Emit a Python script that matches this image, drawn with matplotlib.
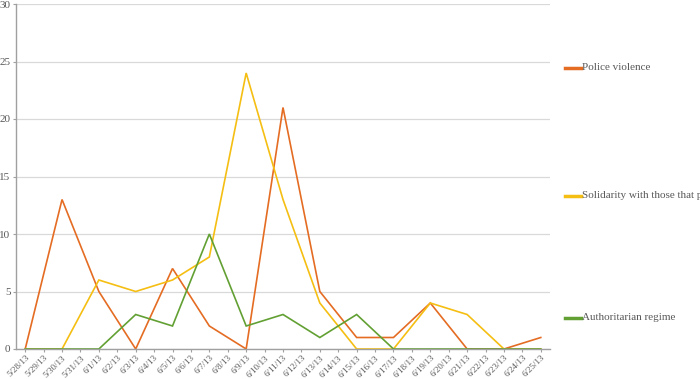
import matplotlib
matplotlib.use("Agg")
import matplotlib.pyplot as plt
from matplotlib.lines import Line2D

dates = ["5/28/13", "5/29/13", "5/30/13", "5/31/13", "6/1/13", "6/2/13", "6/3/13",
         "6/4/13", "6/5/13", "6/6/13", "6/7/13", "6/8/13", "6/9/13", "6/10/13",
         "6/11/13", "6/12/13", "6/13/13", "6/14/13", "6/15/13", "6/16/13", "6/17/13",
         "6/18/13", "6/19/13", "6/20/13", "6/21/13", "6/22/13", "6/23/13", "6/24/13",
         "6/25/13"]
point_dates = ["5/28/13", "5/30/13", "6/1/13", "6/3/13", "6/5/13", "6/7/13", "6/9/13",
               "6/11/13", "6/13/13", "6/15/13", "6/17/13", "6/19/13", "6/21/13",
               "6/23/13", "6/25/13"]
police = [0, 13, 5, 0, 7, 2, 0, 21, 5, 1, 1, 4, 0, 0, 1]
solidarity = [0, 0, 6, 5, 6, 8, 24, 13, 4, 0, 0, 4, 3, 0, 0]
authoritarian = [0, 0, 0, 3, 2, 10, 2, 3, 1, 3, 0, 0, 0, 0, 0]
series_names = ["Police violence", "Solidarity with those that protest", "Authoritarian regime"]
colors = ["#E46C23", "#F5BE12", "#62A033"]

plt.rcParams['font.family'] = ['Liberation Serif', 'DejaVu Serif']

fig = plt.figure(figsize=(7, 3.79), dpi=100)
ax = fig.add_axes([16/700, 1-349/379, (550-16)/700, (349-4)/379])

xpos = [dates.index(d) for d in point_dates]
for vals, c in zip([police, solidarity, authoritarian], colors):
    ax.plot(xpos, vals, color=c, lw=1.2, solid_joinstyle='miter')

ax.set_xlim(-0.5, len(dates) - 0.5)
ax.set_ylim(0, 30)
ax.set_yticks(range(0, 31, 5))
ax.set_xticks(range(len(dates)))
ax.set_xticklabels(dates, rotation=45, ha='right', rotation_mode='anchor')
ax.tick_params(axis='x', labelsize=6.5, colors='#A0A0A0', labelcolor='#595959', length=2, pad=1.5)
ax.tick_params(axis='y', labelsize=8, colors='#A0A0A0', labelcolor='#595959', length=2, pad=2)
ax.grid(axis='y', color='#D9D9D9', lw=0.9)
ax.set_axisbelow(True)
for s in ['top', 'right']:
    ax.spines[s].set_visible(False)
for s in ['left', 'bottom']:
    ax.spines[s].set_color('#A0A0A0')
    ax.spines[s].set_linewidth(1.0)

legend_y = [68, 196, 318]
for name, c, yp in zip(series_names, colors, legend_y):
    yf = 1 - yp/379
    fig.add_artist(Line2D([565/700, 581/700], [yf, yf], color=c, lw=2.5, transform=fig.transFigure))
    fig.text(582/700, yf, name, fontsize=8, color='#595959', va='center', ha='left')

fig.savefig("out.png", dpi=100)
